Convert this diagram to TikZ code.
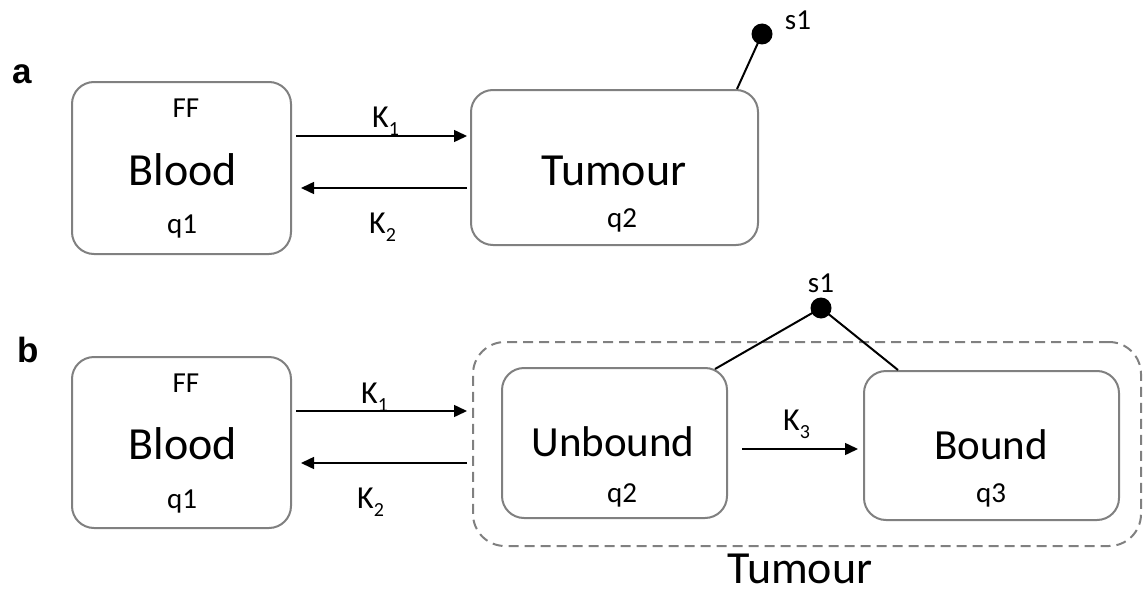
\documentclass[tikz,border=0pt]{standalone}
\usepackage{fontspec}
\setmainfont{Carlito}
\newfontfamily\panelfont{Liberation Sans}
\usetikzlibrary{arrows.meta,calc}
\definecolor{boxgray}{RGB}{128,128,128}
\newcommand\Kk[1]{K{\fontsize{20}{20}\selectfont\raisebox{-8pt}{#1}}}
\begin{document}
\begin{tikzpicture}[x=1pt,y=-1pt,
  box/.style={draw=boxgray, line width=2pt, rounded corners=22pt, inner sep=0pt},
  group/.style={draw=boxgray, line width=2pt, rounded corners=32pt, dash pattern=on 10pt off 6pt, inner sep=0pt},
  big/.style={anchor=base, inner sep=0pt, font=\fontsize{46}{46}\selectfont},
  mid/.style={anchor=base, inner sep=0pt, font=\fontsize{43}{43}\selectfont},
  small/.style={anchor=base, inner sep=0pt, font=\fontsize{29}{29}\selectfont},
  klabel/.style={anchor=base west, inner sep=0pt, font=\fontsize{32}{32}\selectfont},
  panel/.style={inner sep=0pt, font=\panelfont\bfseries\fontsize{35}{35}\selectfont},
  conn/.style={line width=1.5pt, -{Triangle[length=13pt,width=12pt]}},
  link/.style={line width=2pt},
  dot/.style={circle, fill=black, inner sep=0pt, minimum size=21pt}]
\useasboundingbox (0,0) rectangle (1143,594);

% ---------- panel a ----------
\node[panel, anchor=base] (la) at (22.5,84) {a};
\node[box, minimum width=219pt, minimum height=172pt] (bloodA) at (181.5,168) {};
\node[small] (ffA) at (186,117) {FF};
\node[big] (bloodAt) at (183,185) {Blood};
\node[small] (q1A) at (182,233) {q1};

\node[box, minimum width=287pt, minimum height=155pt] (tumA) at (614.5,167.5) {};
\node[big] (tumAt) at (614,185) {Tumour};
\node[small] (q2A) at (622,227) {q2};

\draw[conn] ([shift={(4,-32)}]bloodA.east) -- ([shift={(-3,-31.5)}]tumA.west);
\draw[conn] ([shift={(-3,20.5)}]tumA.west) -- ([shift={(9,20)}]bloodA.east);
\node[klabel] (k1A) at (372,127) {\Kk{1}};
\node[klabel] (k2A) at (369,233) {\Kk{2}};

\node[dot] (dotA) at (762,34) {};
\node[small] (s1A) at (798,30) {s1};
\draw[link] ([xshift=-22pt]tumA.north east) -- (dotA.center);

% ---------- panel b ----------
\node[panel, anchor=base] (lb) at (28,362) {b};
\node[box, minimum width=219pt, minimum height=171pt] (bloodB) at (181.5,442.5) {};
\node[small] (ffB) at (186,392) {FF};
\node[big] (bloodBt) at (183,459) {Blood};
\node[small] (q1B) at (182,508) {q1};

\node[group, minimum width=668pt, minimum height=204pt] (tumB) at (807,444) {};
\node[big] (tumBt) at (800,583) {Tumour};

\node[box, minimum width=225pt, minimum height=150pt] (unb) at (614.5,443) {};
\node[mid] (unbt) at (613,456) {Unbound};
\node[small] (q2B) at (622,502) {q2};

\node[box, minimum width=255pt, minimum height=149pt] (bnd) at (991.5,445.5) {};
\node[mid] (bndt) at (991,459) {Bound};
\node[small] (q3B) at (991,502) {q3};

\draw[conn] ([shift={(4,-31.5)}]bloodB.east) -- ([shift={(-5,-33)}]tumB.west);
\draw[conn] ([shift={(-5,19)}]tumB.west) -- ([shift={(9,20.5)}]bloodB.east);
\node[klabel] (k1B) at (361,403) {\Kk{1}};
\node[klabel] (k2B) at (357,508) {\Kk{2}};

\draw[conn] ([shift={(14,6)}]unb.east) -- ([shift={(-5,3.5)}]bnd.west);
\node[klabel] (k3B) at (783,430) {\Kk{3}};

\node[dot] (dotB) at (821,308) {};
\node[small] (s1B) at (821,292) {s1};
\draw[link] ([shift={(-13,2)}]unb.north east) -- (dotB.center) -- ([xshift=35pt]bnd.north west);
\end{tikzpicture}
\end{document}
